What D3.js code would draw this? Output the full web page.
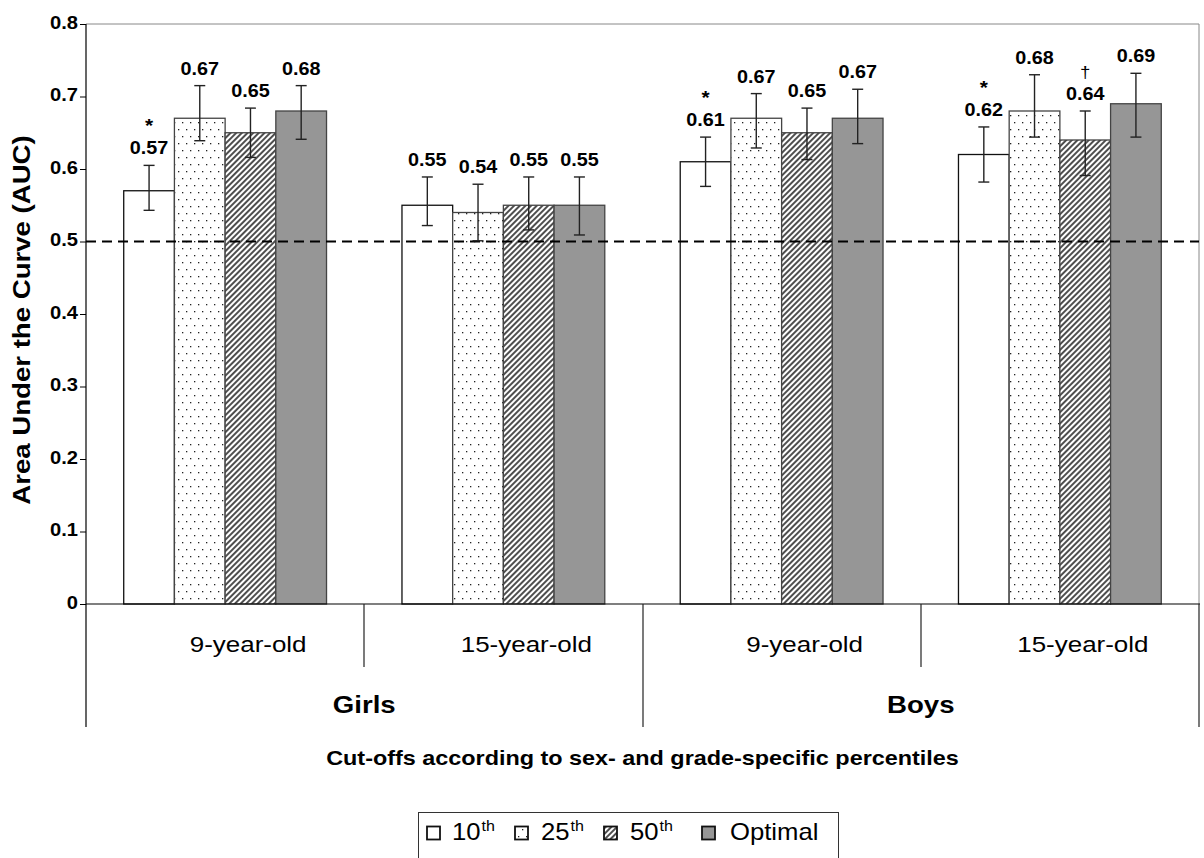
<!DOCTYPE html>
<html>
<head>
<meta charset="utf-8">
<script src="https://cdn.jsdelivr.net/npm/d3@7"></script>
<style>
  html, body { margin: 0; padding: 0; background: #fff; }
  svg { display: block; font-family: Arial, "Liberation Sans", Helvetica, sans-serif; }
</style>
</head>
<body>
<div id="chart"></div>
<script>
// ---- data ----
const sexes = ["Girls", "Boys"];
const ageGroups = ["9-year-old", "15-year-old", "9-year-old", "15-year-old"];
const groupSex = [0, 0, 1, 1];
const cutoffs = ["10th", "25th", "50th", "Optimal"];

// AUC per cut-off, one value per age group (Girls 9, Girls 15, Boys 9, Boys 15)
const auc10  = [0.57, 0.55, 0.61, 0.62];
const auc25  = [0.67, 0.54, 0.67, 0.68];
const auc50  = [0.65, 0.55, 0.65, 0.64];
const aucOpt = [0.68, 0.55, 0.67, 0.69];

// 95% confidence limits
const lo10  = [0.543, 0.522, 0.576, 0.582];
const hi10  = [0.605, 0.589, 0.644, 0.658];
const lo25  = [0.639, 0.501, 0.629, 0.644];
const hi25  = [0.715, 0.579, 0.704, 0.730];
const lo50  = [0.616, 0.516, 0.613, 0.591];
const hi50  = [0.684, 0.589, 0.684, 0.680];
const loOpt = [0.641, 0.509, 0.635, 0.644];
const hiOpt = [0.715, 0.589, 0.710, 0.732];

// significance markers above the labels
const mark10  = ["*", "", "*", "*"];
const mark25  = ["", "", "", ""];
const mark50  = ["", "", "", "\u2020"];
const markOpt = ["", "", "", ""];

const yTicks = [0, 0.1, 0.2, 0.3, 0.4, 0.5, 0.6, 0.7, 0.8];
const referenceAUC = 0.5;

const yTitle = "Area Under the Curve (AUC)";
const xTitle = "Cut-offs according to sex- and grade-specific percentiles";

// ---- layout ----
const W = 1204, H = 858;
const plot = { left: 86, right: 1199, top: 24, bottom: 604 };
const SX = 1.2; // horizontal widening applied to chart text

const svg = d3.select("#chart").append("svg")
  .attr("width", W).attr("height", H);
svg.append("rect").attr("width", W).attr("height", H).attr("fill", "#fff");

// patterns
const defs = svg.append("defs");
const dots = defs.append("pattern").attr("id", "dots")
  .attr("patternUnits", "userSpaceOnUse").attr("width", 8).attr("height", 14);
dots.append("rect").attr("width", 8).attr("height", 14).attr("fill", "#fff");
dots.append("rect").attr("x", 2).attr("y", 3).attr("width", 1.3).attr("height", 1.3).attr("fill", "#222");
dots.append("rect").attr("x", 6).attr("y", 10).attr("width", 1.3).attr("height", 1.3).attr("fill", "#222");

const hatch = defs.append("pattern").attr("id", "hatch")
  .attr("patternUnits", "userSpaceOnUse").attr("width", 4).attr("height", 4)
  .attr("patternTransform", "rotate(45)");
hatch.append("rect").attr("width", 4).attr("height", 4).attr("fill", "#fff");
hatch.append("line").attr("x1", 1).attr("y1", 0).attr("x2", 1).attr("y2", 4)
  .attr("stroke", "#222").attr("stroke-width", 1.6);

const fills = ["#ffffff", "url(#dots)", "url(#hatch)", "#969696"];

// assemble rows
const series = [
  { v: auc10,  lo: lo10,  hi: hi10,  mk: mark10 },
  { v: auc25,  lo: lo25,  hi: hi25,  mk: mark25 },
  { v: auc50,  lo: lo50,  hi: hi50,  mk: mark50 },
  { v: aucOpt, lo: loOpt, hi: hiOpt, mk: markOpt }
];
const bars = [];
ageGroups.forEach((g, gi) => {
  cutoffs.forEach((c, ci) => {
    const s = series[ci];
    bars.push({ g: gi, c: ci, v: s.v[gi], lo: s.lo[gi], hi: s.hi[gi], mk: s.mk[gi] });
  });
});

// scales
const y = d3.scaleLinear().domain([0, 0.8]).range([plot.bottom, plot.top]);
const xGroup = d3.scaleBand().domain(d3.range(ageGroups.length))
  .range([plot.left, plot.right]).padding(0);
const xBar = d3.scaleBand().domain(d3.range(cutoffs.length))
  .range([0, xGroup.bandwidth()]).paddingInner(0).paddingOuter(0.744);
const xSex = d3.scaleBand().domain(d3.range(sexes.length))
  .range([plot.left, plot.right]).padding(0);

// text helper with horizontal widening
function label(parent, x, y0, str, o) {
  o = o || {};
  const sx = o.sx || SX;
  const rot = o.rotate ? ` rotate(${o.rotate})` : "";
  return parent.append("text")
    .attr("transform", `translate(${x},${y0})${rot} scale(${sx},1)`)
    .attr("text-anchor", o.anchor || "middle")
    .attr("font-size", o.size || 16)
    .attr("font-weight", o.bold ? "bold" : "normal")
    .attr("fill", o.color || "#000")
    .text(str);
}

// plot frame (top and right edges)
svg.append("line").attr("x1", plot.left).attr("x2", plot.right)
  .attr("y1", plot.top).attr("y2", plot.top).attr("stroke", "#888").attr("stroke-width", 1);
svg.append("line").attr("x1", plot.right).attr("x2", plot.right)
  .attr("y1", plot.top).attr("y2", plot.bottom).attr("stroke", "#888").attr("stroke-width", 1);

// bars
const barG = svg.append("g");
barG.selectAll("rect").data(bars).join("rect")
  .attr("x", d => xGroup(d.g) + xBar(d.c))
  .attr("y", d => y(d.v))
  .attr("width", xBar.bandwidth())
  .attr("height", d => y(0) - y(d.v))
  .attr("fill", d => fills[d.c])
  .attr("stroke", d => d.c === 0 ? "#111" : "#444")
  .attr("stroke-width", 1.3);

// reference line
svg.append("line")
  .attr("x1", plot.left).attr("x2", plot.right)
  .attr("y1", y(referenceAUC)).attr("y2", y(referenceAUC))
  .attr("stroke", "#000").attr("stroke-width", 2.2).attr("stroke-dasharray", "10,6");

// error bars
const errG = svg.append("g").attr("stroke", "#222").attr("stroke-width", 1.4);
bars.forEach(d => {
  const cx = xGroup(d.g) + xBar(d.c) + xBar.bandwidth() / 2;
  errG.append("line").attr("x1", cx).attr("x2", cx).attr("y1", y(d.lo)).attr("y2", y(d.hi));
  errG.append("line").attr("x1", cx - 5.5).attr("x2", cx + 5.5).attr("y1", y(d.lo)).attr("y2", y(d.lo));
  errG.append("line").attr("x1", cx - 5.5).attr("x2", cx + 5.5).attr("y1", y(d.hi)).attr("y2", y(d.hi));
});

// value labels and markers
const valG = svg.append("g");
bars.forEach(d => {
  const cx = xGroup(d.g) + xBar(d.c) + xBar.bandwidth() / 2;
  const base = y(d.hi) - 11;
  label(valG, cx, base, d.v.toFixed(2), { size: 18, bold: true, sx: 1.1 });
  if (d.mk) {
    const isStar = d.mk === "*";
    label(valG, cx, base - 22, d.mk, { size: isStar ? 19 : 17, bold: isStar, sx: 1.1 });
  }
});

// y axis
const yAxis = d3.axisLeft(y).tickValues(yTicks).tickSize(6).tickPadding(8);
const yAxisG = svg.append("g").attr("transform", `translate(${plot.left},0)`).call(yAxis);
yAxisG.select(".domain").remove();
yAxisG.selectAll(".tick line").attr("stroke", "#000");
yAxisG.selectAll(".tick text").remove();
yAxisG.selectAll(".tick").each(function(d) {
  label(d3.select(this), -8, 4, d === 0 ? "0" : d3.format(".1f")(d),
    { size: 18, bold: true, anchor: "end", sx: 1.12 });
});
// y axis line extends down through the category area
svg.append("line").attr("x1", plot.left).attr("x2", plot.left)
  .attr("y1", plot.top).attr("y2", 727).attr("stroke", "#000").attr("stroke-width", 1.2);

// x axis baseline
svg.append("line").attr("x1", plot.left).attr("x2", plot.right + 1)
  .attr("y1", plot.bottom).attr("y2", plot.bottom).attr("stroke", "#000").attr("stroke-width", 1.2);

// category separators: age groups (short) and sexes (long)
const sepG = svg.append("g").attr("stroke", "#222").attr("stroke-width", 1.2);
d3.range(1, ageGroups.length).forEach(i => {
  const sx0 = Math.round(xGroup(i));
  const isSexBoundary = groupSex[i] !== groupSex[i - 1];
  sepG.append("line").attr("x1", sx0).attr("x2", sx0)
    .attr("y1", plot.bottom).attr("y2", isSexBoundary ? 727 : 667);
});
sepG.append("line").attr("x1", plot.right).attr("x2", plot.right)
  .attr("y1", plot.bottom).attr("y2", 727);

// age-group labels
ageGroups.forEach((g, gi) => {
  label(svg, xGroup(gi) + xGroup.bandwidth() / 2 + 23, 652, g, { size: 22, sx: 1.18 });
});
// sex labels
sexes.forEach((s, si) => {
  label(svg, xSex(si) + xSex.bandwidth() / 2, 713, s, { size: 23, bold: true, sx: 1.2 });
});

// axis titles
label(svg, (plot.left + plot.right) / 2, 765, xTitle, { size: 19.5, bold: true, sx: 1.2 });
label(svg, 30, 320, yTitle, { size: 23, bold: true, sx: 1.2, rotate: -90 });

// legend
const leg = svg.append("g");
leg.append("rect").attr("x", 418.5).attr("y", 812.5).attr("width", 420).attr("height", 60)
  .attr("fill", "#fff").attr("stroke", "#333").attr("stroke-width", 1);
const legendItems = [
  { sq: 427, tx: 452, main: "10", sup: "th" },
  { sq: 515, tx: 541, main: "25", sup: "th" },
  { sq: 604, tx: 630, main: "50", sup: "th" },
  { sq: 702, tx: 730, main: "Optimal", sup: "" }
];
legendItems.forEach((it, i) => {
  leg.append("rect").attr("x", it.sq).attr("y", 826.5).attr("width", 13).attr("height", 13)
    .attr("fill", fills[i]).attr("stroke", "#111").attr("stroke-width", 1.8);
  const t = label(leg, it.tx, 840, it.main, { size: 24, anchor: "start", sx: 1.07 });
  if (it.sup) {
    const w = t.node().getComputedTextLength() * 1.07;
    label(leg, it.tx + w + 1, 831, it.sup, { size: 15, anchor: "start", sx: 1.07 });
  }
});
</script>
</body>
</html>
